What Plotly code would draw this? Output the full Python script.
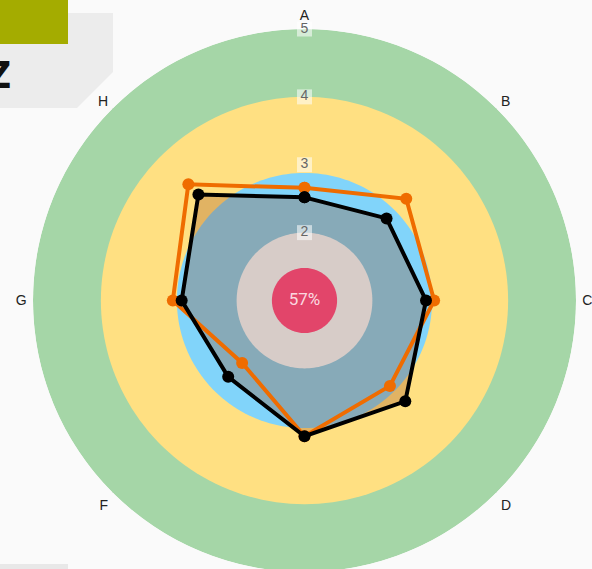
import numpy as np
import plotly.graph_objects as go

# ---- data ----
categories = ["A", "B", "C", "D", "E", "F", "G", "H"]
series_black = [2.52, 2.71, 2.79, 3.10, 3.00, 2.59, 2.81, 3.21]
series_orange = [2.66, 3.12, 2.91, 2.78, 3.00, 2.30, 2.94, 3.42]
radial_ticks = [2, 3, 4, 5]
center_label = "57%"
title_text = "Z"

# band outer radii and colours (drawn largest first)
band_outer_big = [5, 4, 2.88]
band_colors_big = ["#a5d6a7", "#ffe082", "#81d4fa"]
band_outer_small = [2.0, 1.48]
band_colors_small = ["#d7ccc8", "#e2456a"]

n = len(categories)
cat_angles = [i * 360.0 / n for i in range(n)]
circle_theta = np.linspace(0, 360, 181)


def closed(vals):
    return list(vals) + [vals[0]]


fig = go.Figure()

for r_out, col in zip(band_outer_big, band_colors_big):
    fig.add_trace(go.Scatterpolar(
        r=[r_out] * len(circle_theta), theta=circle_theta, mode="lines",
        fill="toself", fillcolor=col, line=dict(width=0, color=col),
        hoverinfo="skip", showlegend=False))

# data fill
fig.add_trace(go.Scatterpolar(
    r=closed(series_black), theta=closed(cat_angles), mode="lines",
    fill="toself", fillcolor="rgba(150,70,25,0.29)", line=dict(width=0),
    hoverinfo="skip", showlegend=False))

for r_out, col in zip(band_outer_small, band_colors_small):
    fig.add_trace(go.Scatterpolar(
        r=[r_out] * len(circle_theta), theta=circle_theta, mode="lines",
        fill="toself", fillcolor=col, line=dict(width=0, color=col),
        hoverinfo="skip", showlegend=False))

fig.add_trace(go.Scatterpolar(
    r=closed(series_orange), theta=closed(cat_angles), mode="lines+markers",
    line=dict(color="#ef6c00", width=4),
    marker=dict(color="#ef6c00", size=12), showlegend=False))

fig.add_trace(go.Scatterpolar(
    r=closed(series_black), theta=closed(cat_angles), mode="lines+markers",
    line=dict(color="#000000", width=4),
    marker=dict(color="#000000", size=12), showlegend=False))

# radial tick labels with light boxes
fig.add_trace(go.Scatterpolar(
    r=radial_ticks, theta=[cat_angles[0]] * len(radial_ticks),
    mode="markers+text", text=[str(t) for t in radial_ticks],
    textposition="middle center",
    textfont=dict(family="Liberation Sans, Arial, sans-serif", size=14, color="#666666"),
    marker=dict(symbol="square", size=15, color="rgba(255,255,255,0.55)", line=dict(width=0)),
    hoverinfo="skip", showlegend=False))

# center label
fig.add_trace(go.Scatterpolar(
    r=[1], theta=[0], mode="text", text=[center_label],
    textposition="middle center",
    textfont=dict(family="Roboto, sans-serif", size=17, color="rgba(255,235,240,0.9)"),
    hoverinfo="skip", showlegend=False))

W, H = 592, 572
ml, mr, mt, mb = 33, 16, 29, 0
pw, ph = W - ml - mr, H - mt - mb


def px(x):
    return (x - ml) / pw


def py(y):
    return (H - mb - y) / ph


gray_path = "M {},{} L {},{} L {},{} L {},{} L {},{} Z".format(
    px(0), py(13), px(113), py(13), px(113), py(72), px(77), py(108), px(0), py(108))

fig.update_layout(
    width=W, height=H,
    margin=dict(l=ml, r=mr, t=mt, b=mb, pad=0),
    paper_bgcolor="#fafafa", plot_bgcolor="#fafafa",
    showlegend=False,
    polar=dict(
        bgcolor="rgba(0,0,0,0)",
        domain=dict(x=[0, 1], y=[0, 1]),
        radialaxis=dict(range=[1, 5], showticklabels=False, ticks="",
                        showgrid=False, showline=False),
        angularaxis=dict(direction="clockwise", rotation=90,
                         tickmode="array", tickvals=cat_angles, ticktext=categories,
                         tickfont=dict(family="Liberation Sans, Arial, sans-serif", size=14, color="#222222"),
                         ticks="outside", ticklen=3, tickcolor="rgba(0,0,0,0)",
                         showline=False,
                         gridcolor="rgba(0,0,0,0.14)", gridwidth=1),
    ),
    shapes=[
        dict(type="path", xref="paper", yref="paper", path=gray_path,
             fillcolor="#ececec", line=dict(width=0), layer="above"),
        dict(type="rect", xref="paper", yref="paper",
             x0=px(0), x1=px(68), y0=py(44), y1=py(0),
             fillcolor="#a4ac00", line=dict(width=0), layer="above"),
        dict(type="rect", xref="paper", yref="paper",
             x0=px(0), x1=px(68), y0=py(569), y1=py(564),
             fillcolor="#e8e8e8", line=dict(width=0), layer="above"),
    ],
    annotations=[
        dict(text="<b>" + title_text + "</b>", xref="paper", yref="paper",
             x=px(13), y=py(75), xanchor="right", yanchor="middle",
             showarrow=False,
             font=dict(family="Liberation Sans Narrow, DejaVu Sans Condensed, sans-serif",
                       size=37, color="#111111")),
    ],
)

fig.write_html(
    "out.html",
    config={"displayModeBar": False},
    post_script="document.body.style.margin='0';document.body.style.overflow='hidden';"
                "document.documentElement.style.overflow='hidden';",
)
